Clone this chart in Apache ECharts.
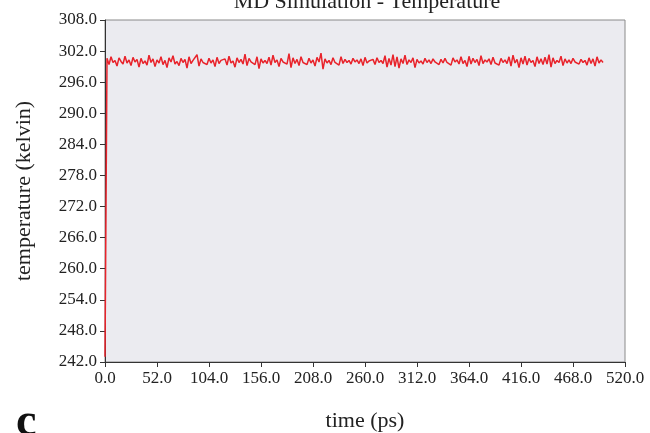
<!DOCTYPE html>
<html>
<head>
<meta charset="utf-8">
<script src="https://cdn.jsdelivr.net/npm/echarts@6/dist/echarts.min.js"></script>
<style>
  html, body { margin: 0; padding: 0; background: #fff; }
  #main { width: 650px; height: 433px; }
</style>
</head>
<body>
<div id="main"></div>
<script>
// temperature samples, one every 2 ps
var dt = 2;
var temps = [
  243.0, 300.6, 299.4, 300.9, 299.8, 300.2, 299.1, 300.7, 300.0, 299.5, 301.0, 299.7, 300.3, 299.2, 300.8, 299.9, 300.4, 298.9, 300.6, 299.6,
  300.1, 299.3, 301.2, 299.8, 300.5, 299.0, 300.3, 299.7, 300.9, 299.4, 300.2, 298.8, 300.7, 299.9, 301.1, 299.5, 300.0, 299.2, 300.6, 299.8,
  300.4, 298.7, 300.9, 299.6, 300.2, 299.9, 301.3, 299.1, 300.5, 299.8, 300.1, 299.4, 300.6, 299.7, 300.3, 299.0, 300.8, 299.6, 300.2, 299.9,
  300.5, 299.3, 301.0, 299.7, 300.1, 298.9, 300.7, 299.8, 300.4, 299.5, 301.4, 299.2, 300.6, 299.9, 300.0, 299.4, 300.9, 298.6, 300.5, 299.7,
  300.2, 299.6, 300.8, 299.3, 301.2, 299.8, 300.3, 299.0, 300.6, 299.9, 300.1, 299.5, 301.5, 298.8, 300.7, 299.6, 300.4, 299.2, 300.9, 299.8,
  300.0, 299.4, 300.6, 299.7, 300.3, 299.1, 300.8, 299.9, 301.6, 298.5, 300.5, 299.7, 300.2, 299.4, 300.7, 299.8, 300.1, 299.3, 300.9, 299.6,
  300.4, 299.8, 300.2, 299.5, 300.6, 299.9, 300.3, 299.6, 300.5, 299.2, 300.8, 299.7, 300.1, 299.9, 300.4, 299.4, 300.7, 299.8, 300.2, 299.6,
  301.1, 298.9, 300.6, 299.3, 301.3, 299.0, 300.9, 298.7, 300.5, 299.6, 301.2, 299.4, 300.3, 299.8, 300.7, 298.8, 300.4, 299.7, 300.1, 299.5,
  300.6, 299.8, 300.3, 299.6, 300.5, 299.9, 300.2, 299.4, 300.4, 299.7, 300.6, 299.8, 300.1, 299.3, 300.7, 299.9, 300.3, 299.5, 300.9, 299.6,
  300.2, 299.0, 301.0, 299.5, 300.6, 299.8, 300.4, 299.2, 301.1, 299.6, 300.3, 299.9, 300.5, 299.4, 300.8, 299.7, 300.0, 299.3, 300.6, 299.8,
  300.3, 299.6, 300.9, 299.1, 301.2, 299.7, 300.4, 298.8, 300.7, 299.5, 301.0, 299.3, 300.6, 299.8, 300.2, 299.0, 300.9, 299.6, 300.5, 299.4,
  300.8, 299.5, 301.3, 298.9, 300.7, 299.6, 300.2, 299.8, 301.0, 299.2, 300.5, 299.7, 300.3, 299.6, 300.6, 299.9, 300.1, 299.5, 300.4, 299.8,
  300.2, 299.3, 300.7, 299.6, 300.5, 299.1, 300.9, 299.7, 300.3, 299.8
];
var xMin = 0, xMax = 520, xStep = 52;
var yMin = 242, yMax = 308, yStep = 6;

var pts = temps.map(function (v, i) { return [i * dt, v]; });

var serif = '"Liberation Serif", "DejaVu Serif", serif';
var myChart = echarts.init(document.getElementById('main'));
var option = {
    animation: false,
    title: {
        text: 'MD Simulation - Temperature',
        left: 362,
        textAlign: 'center',
        top: -14,
        textStyle: { fontFamily: serif, fontSize: 22, fontWeight: 'normal', color: '#222' }
    },
    graphic: [{
        type: 'text',
        left: 16,
        top: 400,
        style: { text: 'c', font: 'bold 46px ' + serif, fill: '#111' }
    }],
    grid: {
        left: 105, right: 25, top: 20, bottom: 71,
        outerBoundsMode: 'none',
        show: true,
        backgroundColor: '#ebebf0',
        borderColor: '#8a8a8a',
        borderWidth: 1
    },
    xAxis: {
        type: 'value',
        min: xMin, max: xMax, interval: xStep,
        name: 'time (ps)',
        nameLocation: 'middle',
        nameGap: 48,
        nameTextStyle: { fontFamily: serif, fontSize: 22, color: '#222' },
        axisLine: { lineStyle: { color: '#333' } },
        axisTick: { length: 5, lineStyle: { color: '#333' } },
        splitLine: { show: false },
        axisLabel: {
            fontFamily: serif, fontSize: 17, color: '#222', margin: 8,
            formatter: function (v) { return v.toFixed(1); }
        }
    },
    yAxis: {
        type: 'value',
        min: yMin, max: yMax, interval: yStep,
        name: 'temperature (kelvin)',
        nameLocation: 'middle',
        nameGap: 70,
        nameTextStyle: { fontFamily: serif, fontSize: 22, color: '#222' },
        axisLine: { show: true, lineStyle: { color: '#333' } },
        axisTick: { show: true, length: 5, lineStyle: { color: '#333' } },
        splitLine: { show: false },
        axisLabel: {
            fontFamily: serif, fontSize: 17, color: '#222', margin: 8,
            formatter: function (v) { return v.toFixed(1); }
        }
    },
    series: [{
        type: 'line',
        data: pts,
        showSymbol: false,
        lineStyle: { color: '#e8232b', width: 1.5 },
        clip: true
    }]
};
myChart.setOption(option);
</script>
</body>
</html>
